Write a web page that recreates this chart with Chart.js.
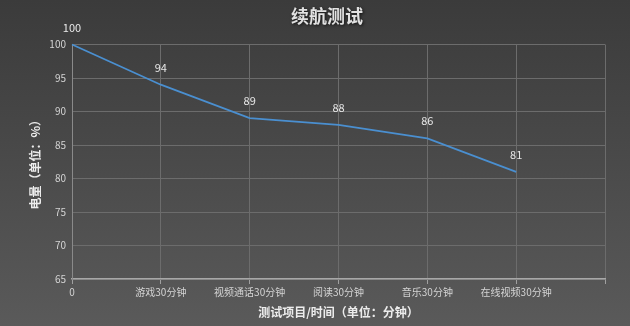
<!DOCTYPE html>
<html>
<head>
<meta charset="utf-8">
<title>续航测试</title>
<script src="https://cdn.jsdelivr.net/npm/chart.js@4/dist/chart.umd.min.js"></script>
<style>
    html, body { margin: 0; padding: 0; }
    body { width: 630px; height: 326px; overflow: hidden;
           background: linear-gradient(to bottom, #3b3b3b 0%, #4a4a4a 50%, #5a5a5a 100%); }
    #battery-chart { display: block; }
</style>
</head>
<body>
<canvas id="battery-chart" width="630" height="326"></canvas>
<script>
'use strict';

// Chart data:
var chartTitle = '续航测试';
var categories = ['0', '游戏30分钟', '视频通话30分钟', '阅读30分钟', '音乐30分钟', '在线视频30分钟', ''];
var batteryLevels = [100, 94, 89, 88, 86, 81];
var yMin = 65;
var yMax = 100;
var yStep = 5;

var fontFamily = "'Noto Sans CJK SC', 'DejaVu Sans', sans-serif";

// Value labels above each point (no datalabels plugin available offline):
var valueLabels = {
    id: 'valueLabels',
    afterDatasetsDraw: function (chart) {
        var ctx = chart.ctx;
        var meta = chart.getDatasetMeta(0);
        ctx.save();
        ctx.font = '11px ' + fontFamily;
        ctx.fillStyle = '#e8e8e8';
        ctx.textAlign = 'center';
        ctx.textBaseline = 'middle';
        meta.data.forEach(function (point, i) {
            ctx.fillText(String(batteryLevels[i]), point.x, point.y - 17);
        });
        ctx.restore();
    }
};

// Title with a soft shadow, centred like the original:
var shadowTitle = {
    id: 'shadowTitle',
    afterDraw: function (chart) {
        var ctx = chart.ctx;
        ctx.save();
        ctx.font = 'bold 18px ' + fontFamily;
        ctx.fillStyle = '#e2e2e2';
        ctx.textAlign = 'center';
        ctx.textBaseline = 'middle';
        ctx.shadowColor = 'rgba(0, 0, 0, 0.7)';
        ctx.shadowBlur = 3;
        ctx.shadowOffsetX = 1;
        ctx.shadowOffsetY = 1;
        ctx.fillText(chartTitle, 327, 16);
        ctx.restore();
    }
};

var context = document.getElementById('battery-chart').getContext('2d');
var chart = new Chart(context, {
    type: 'line',
    data: {
        labels: categories,
        datasets: [{
            data: batteryLevels,
            borderColor: '#4a8fd0',
            borderWidth: 1.8,
            pointRadius: 0,
            tension: 0,
            fill: false,
            clip: 4
        }]
    },
    options: {
        responsive: false,
        devicePixelRatio: 1,
        animation: false,
        layout: {
            padding: { left: 0, right: 25, top: 44.5, bottom: 0 }
        },
        plugins: {
            legend: { display: false },
            tooltip: { enabled: false },
            title: { display: false }
        },
        scales: {
            x: {
                type: 'category',
                offset: false,
                grid: {
                    color: '#6c6c6c',
                    lineWidth: 1,
                    tickLength: 5,
                    tickColor: '#a0a0a0'
                },
                border: { color: '#a8a8a8', width: 1.5 },
                ticks: {
                    color: '#d4d4d4',
                    font: { family: fontFamily, size: 10 },
                    padding: 2,
                    maxRotation: 0,
                    autoSkip: false
                },
                title: {
                    display: true,
                    text: '测试项目/时间（单位：分钟）',
                    color: '#ececec',
                    font: { family: fontFamily, size: 12, weight: 'bold', lineHeight: 1.2 },
                    padding: { top: 0, bottom: 6 }
                },
                afterFit: function (scale) {
                    scale.height = 47;
                }
            },
            y: {
                min: yMin,
                max: yMax,
                grid: {
                    color: '#6c6c6c',
                    lineWidth: 1,
                    drawTicks: false
                },
                border: { color: '#8a8a8a', width: 1 },
                ticks: {
                    stepSize: yStep,
                    color: '#d4d4d4',
                    font: { family: fontFamily, size: 10 },
                    padding: 6
                },
                title: {
                    display: true,
                    text: '电量（单位：%）',
                    color: '#ececec',
                    font: { family: fontFamily, size: 12, weight: 'bold', lineHeight: 1.2 },
                    padding: { top: 28, bottom: 0 }
                },
                afterFit: function (scale) {
                    scale.width = 72;
                }
            }
        }
    },
    plugins: [valueLabels, shadowTitle]
});
</script>
</body>
</html>
